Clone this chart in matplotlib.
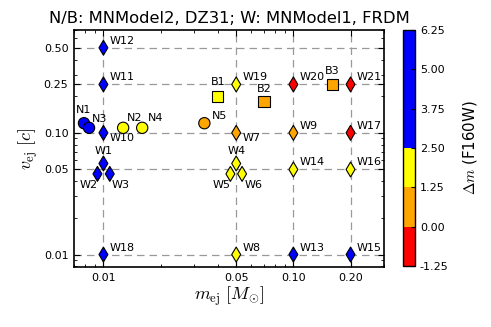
import numpy as np
import matplotlib
matplotlib.use('Agg')
import matplotlib.pyplot as plt
from matplotlib.colors import ListedColormap, BoundaryNorm
from matplotlib.ticker import FixedLocator, FormatStrFormatter, NullFormatter, LogLocator

plt.rcParams['font.family'] = 'DejaVu Sans'
plt.rcParams['mathtext.fontset'] = 'cm'

# N: MNModel2, DZ31 (circles)
n_names = ['N1', 'N2', 'N3', 'N4', 'N5']
n_mej = [0.0079, 0.0127, 0.0084, 0.016, 0.034]
n_vej = [0.12, 0.11, 0.11, 0.11, 0.12]
n_dm = [4.5, 2.0, 4.5, 2.0, 0.6]

# B: MNModel2, DZ31 (squares)
b_names = ['B1', 'B2', 'B3']
b_mej = [0.04, 0.07, 0.16]
b_vej = [0.2, 0.18, 0.25]
b_dm = [2.0, 0.6, 0.6]

# W: MNModel1, FRDM (diamonds)
w_names = ['W1', 'W2', 'W3', 'W4', 'W5', 'W6', 'W7', 'W8', 'W9', 'W10', 'W11',
           'W12', 'W13', 'W14', 'W15', 'W16', 'W17', 'W18', 'W19', 'W20', 'W21']
w_mej = [0.01, 0.0093, 0.0108, 0.05, 0.0466, 0.0537, 0.05, 0.05, 0.1, 0.01, 0.01,
         0.01, 0.1, 0.1, 0.2, 0.2, 0.2, 0.01, 0.05, 0.1, 0.2]
w_vej = [0.056, 0.046, 0.046, 0.056, 0.046, 0.046, 0.1, 0.01, 0.1, 0.1, 0.25,
         0.5, 0.01, 0.05, 0.01, 0.05, 0.1, 0.01, 0.25, 0.25, 0.25]
w_dm = [4.5, 4.5, 4.5, 2.0, 2.0, 2.0, 0.6, 2.0, 0.6, 4.5, 4.5,
        4.5, 4.5, 2.0, 4.5, 2.0, -0.6, 4.5, 2.0, -0.6, -0.6]

x_ticks = [0.01, 0.05, 0.10, 0.20]
y_ticks = [0.01, 0.05, 0.10, 0.25, 0.50]
cbar_bounds = [-1.25, 0.0, 1.25, 2.5, 3.75, 5.0, 6.25]

# label offsets in pixels (dx, dy, ha)
upright = (6, 7, 'left')
lowright = (6, -5, 'left')
label_pos = {
    'W1': (0, 12, 'center'), 'W4': (0, 12, 'center'),
    'W2': (-9, -11, 'center'), 'W5': (-9, -11, 'center'),
    'W3': (11, -11, 'center'), 'W6': (12, -11, 'center'),
    'W7': lowright, 'W10': lowright,
    'N1': (0, 13, 'center'), 'N3': (11, 9, 'center'), 'N2': (11, 10, 'center'),
    'N4': (13, 10, 'center'), 'N5': (15, 7, 'center'),
    'B1': (0, 14, 'center'), 'B2': (0, 13, 'center'), 'B3': (0, 13, 'center'),
}

cmap = ListedColormap(['red', 'orange', 'yellow', 'blue', 'blue', 'blue'])
norm = BoundaryNorm(cbar_bounds, cmap.N)

fig = plt.figure(figsize=(4.91, 3.27), dpi=100)
ax = fig.add_axes([74 / 491, 1 - 267 / 327, 310 / 491, 237 / 327])
cax = fig.add_axes([403 / 491, 1 - 266 / 327, 12 / 491, 236 / 327])

ax.set_xscale('log')
ax.set_yscale('log')
ax.set_xlim(0.007, 0.3)
ax.set_ylim(0.0079, 0.7)

ax.grid(True, which='major', color='0.6', linestyle=(0, (6, 4)), linewidth=0.9)
ax.set_axisbelow(True)

kw = dict(cmap=cmap, norm=norm, edgecolors='black', linewidths=0.8, zorder=3)
ax.scatter(n_mej, n_vej, c=n_dm, marker='o', s=66, **kw)
ax.scatter(b_mej, b_vej, c=b_dm, marker='s', s=66, **kw)
ax.scatter(w_mej, w_vej, c=w_dm, marker='d', s=58, **kw)

for names, xs, ys in [(n_names, n_mej, n_vej), (b_names, b_mej, b_vej),
                      (w_names, w_mej, w_vej)]:
    for name, xv, yv in zip(names, xs, ys):
        dx, dy, ha = label_pos.get(name, upright)
        ax.annotate(name, (xv, yv), xytext=(dx, dy), textcoords='offset pixels',
                    ha=ha, va='center', fontsize=8, zorder=4)

ax.xaxis.set_major_locator(FixedLocator(x_ticks))
ax.xaxis.set_major_formatter(FormatStrFormatter('%.2f'))
ax.xaxis.set_minor_locator(LogLocator(base=10, subs=np.arange(2, 10)))
ax.xaxis.set_minor_formatter(NullFormatter())
ax.yaxis.set_major_locator(FixedLocator(y_ticks))
ax.yaxis.set_major_formatter(FormatStrFormatter('%.2f'))
ax.yaxis.set_minor_locator(LogLocator(base=10, subs=np.arange(2, 10)))
ax.yaxis.set_minor_formatter(NullFormatter())
ax.tick_params(which='both', direction='in', top=True, right=True, labelsize=8)
ax.tick_params(which='major', length=4, width=0.8, pad=4)
ax.tick_params(which='minor', length=2, width=0.6)
for sp in ax.spines.values():
    sp.set_linewidth(1.2)

ax.set_xlabel(r'$m_{\rm ej}\ [M_{\odot}]$', fontsize=13, labelpad=1)
ax.set_ylabel(r'$v_{\rm ej}\ [c]$', fontsize=13, labelpad=3)
ax.set_title('N/B: MNModel2, DZ31; W: MNModel1, FRDM', fontsize=11.8, pad=5)

sm = plt.cm.ScalarMappable(cmap=cmap, norm=norm)
cbar = fig.colorbar(sm, cax=cax, ticks=cbar_bounds)
cbar.ax.yaxis.set_major_formatter(FormatStrFormatter('%.2f'))
cbar.ax.tick_params(direction='in', length=3, labelsize=8)
cbar.outline.set_linewidth(1.0)
cbar.set_label(r'$\Delta m$ (F160W)', fontsize=10.8, labelpad=9)

fig.savefig('out.png', dpi=100)
